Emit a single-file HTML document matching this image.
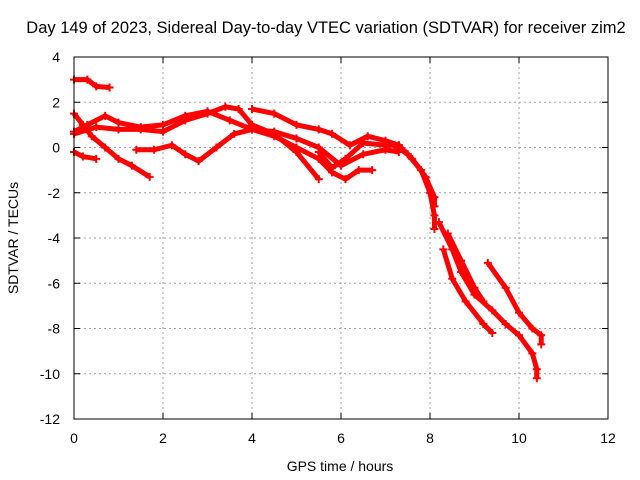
<!DOCTYPE html>
<html><head><meta charset="utf-8"><style>
body{margin:0;background:#fff;}
svg{display:block;font-family:"Liberation Sans",sans-serif;}
</style></head><body>
<svg id="chart" width="640" height="480">
<text x="326" y="33" font-size="16.5" text-anchor="middle">Day 149 of 2023, Sidereal Day-to-day VTEC variation (SDTVAR) for receiver zim2</text>
<text x="340" y="471" font-size="14" text-anchor="middle">GPS time / hours</text>
<text transform="translate(18,238) rotate(-90)" font-size="14" text-anchor="middle">SDTVAR / TECUs</text>
<g id="grid"></g><g id="series"></g><g id="axes"></g>
</svg>
<script>
const xTicks=[0,2,4,6,8,10,12];
const yTicks=[4,2,0,-2,-4,-6,-8,-10,-12];
const trackA=[[0,3.0],[0.3,3.0],[0.5,2.7],[0.8,2.65]];
const trackB=[[0,-0.2],[0.2,-0.4],[0.5,-0.5]];
const trackC=[[0,1.5],[0.2,1.0],[0.4,0.5],[0.7,0.0],[1.0,-0.5],[1.3,-0.8],[1.7,-1.3]];
const trackD=[[0,0.7],[0.3,1.0],[0.7,1.4],[1.0,1.1],[1.5,0.9],[2.0,1.0],[2.5,1.4],[3.0,1.6],[3.5,1.2],[4.0,0.8],[4.5,0.5],[5.0,0.0],[5.5,-0.5],[5.8,-1.1],[6.1,-1.4],[6.4,-1.0],[6.7,-1.0]];
const trackE=[[0,0.6],[0.5,0.9],[1.0,0.8],[1.5,0.8],[2.0,0.7],[2.5,1.2],[3.0,1.5],[3.4,1.8],[3.7,1.7],[4.0,1.0],[4.5,0.6],[5.0,-0.2],[5.5,-1.4]];
const trackF=[[1.4,-0.1],[1.8,-0.1],[2.2,0.1],[2.5,-0.3],[2.8,-0.6],[3.2,0.0],[3.6,0.6],[4.0,0.8],[4.5,0.7],[5.0,0.4],[5.5,0.0],[6.0,-0.8],[6.5,-0.3],[7.0,-0.1],[7.3,-0.2]];
const trackG=[[4.0,1.7],[4.5,1.5],[5.0,1.0],[5.5,0.8],[5.8,0.6],[6.2,0.1],[6.6,0.5],[7.0,0.3],[7.3,0.1]];
const trackH=[[5.5,-0.2],[5.8,-0.9],[6.1,-0.5],[6.5,0.2],[7.0,0.1],[7.3,0.1],[7.6,-0.5],[7.9,-1.3],[8.1,-2.2],[8.1,-2.6]];
const trackJ=[[7.2,0.1],[7.5,-0.3],[7.8,-1.0],[8.0,-2.0],[8.1,-3.0],[8.1,-3.6]];
const trackK=[[8.2,-3.3],[8.5,-4.5],[8.7,-5.5],[9.0,-6.5],[9.4,-7.2],[9.7,-7.8],[10.0,-8.3],[10.3,-9.1],[10.4,-9.8],[10.4,-10.2]];
const trackL=[[8.3,-4.5],[8.5,-5.8],[8.8,-6.8],[9.2,-7.8],[9.4,-8.2]];
const trackM=[[9.3,-5.1],[9.7,-6.2],[10.0,-7.3],[10.3,-8.0],[10.5,-8.3],[10.5,-8.7]];
const trackN=[[8.4,-3.8],[8.7,-5.0],[9.0,-6.2],[9.2,-6.8]];
const tracks=[trackA,trackB,trackC,trackD,trackE,trackF,trackG,trackH,trackJ,trackK,trackL,trackM,trackN];
const X0=74,X1=608,Y0=57,Y1=419;
const xs=v=>X0+(v-0)/12*(X1-X0);
const ys=v=>Y0+(4-v)/16*(Y1-Y0);
const NS='http://www.w3.org/2000/svg';
const grid=document.getElementById('grid'),axes=document.getElementById('axes'),ser=document.getElementById('series');
function mk(t,a,p){const e=document.createElementNS(NS,t);for(const k in a)e.setAttribute(k,a[k]);p.appendChild(e);return e;}
xTicks.forEach(v=>{const x=xs(v);
 if(v>0&&v<12){const g=mk('line',{x1:x,x2:x,y1:Y0,y2:Y1,stroke:'#a0a0a0','stroke-dasharray':'2,3'},grid);
 }
 const t=mk('text',{x:x,y:Y1+24,'font-size':14,'text-anchor':'middle'},axes);t.textContent=v;
 
 mk('line',{x1:x,x2:x,y1:Y1,y2:Y1-6,stroke:'#000'},axes);mk('line',{x1:x,x2:x,y1:Y0,y2:Y0+6,stroke:'#000'},axes);});
yTicks.forEach(v=>{const y=ys(v);
 if(v<4&&v>-12){const g=mk('line',{x1:X0,x2:X1,y1:y,y2:y,stroke:'#a0a0a0','stroke-dasharray':'2,3'},grid);
 }
 const t=mk('text',{x:X0-14,y:y+5,'font-size':14,'text-anchor':'end'},axes);t.textContent=v;
 
 mk('line',{x1:X0,x2:X0+6,y1:y,y2:y,stroke:'#000'},axes);mk('line',{x1:X1,x2:X1-6,y1:y,y2:y,stroke:'#000'},axes);});
const fr=mk('rect',{x:X0,y:Y0,width:X1-X0,height:Y1-Y0,fill:'none',stroke:'#000'},axes);

tracks.forEach(tr=>{
 const pl=mk('polyline',{points:tr.map(p=>xs(p[0])+','+ys(p[1])).join(' '),fill:'none',stroke:'#f00','stroke-width':5,'stroke-linejoin':'round'},ser);
 
 tr.forEach(p=>{const x=xs(p[0]),y=ys(p[1]);
  const m=mk('path',{d:`M${x-4},${y}h8M${x},${y-4}v8`,stroke:'#f00','stroke-width':2},ser);
  });
});
</script>
</body></html>
